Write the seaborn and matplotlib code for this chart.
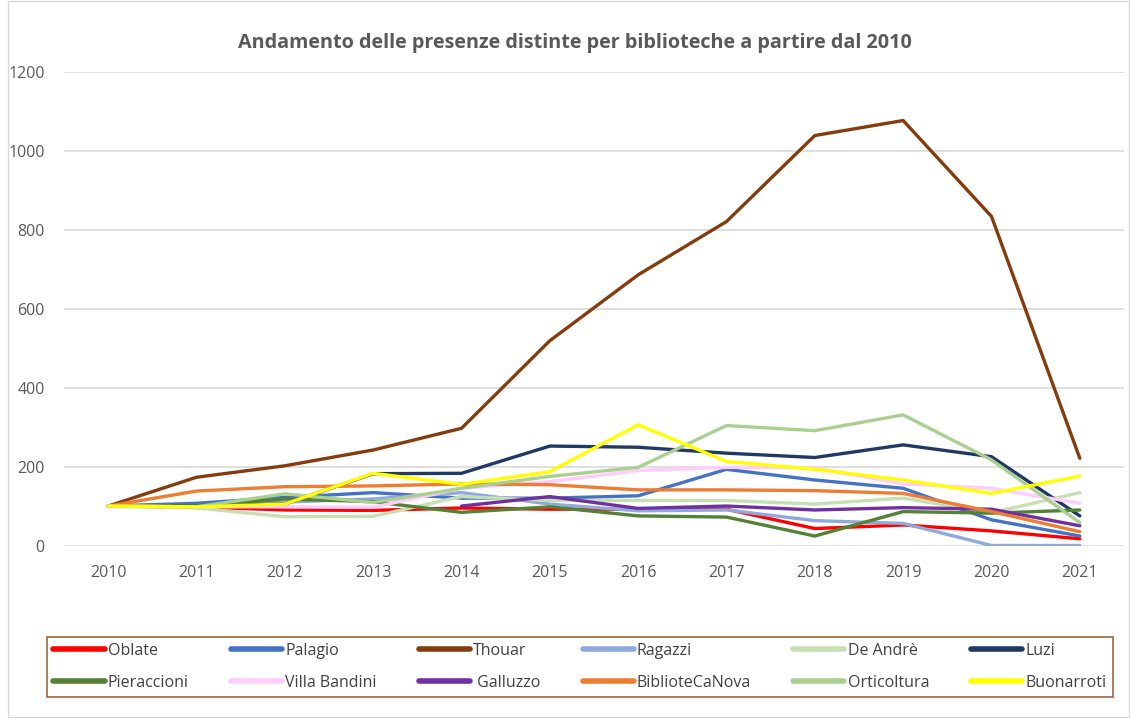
import numpy as np
import pandas as pd
import matplotlib
matplotlib.use("Agg")
import matplotlib.pyplot as plt
import seaborn as sns
from matplotlib.patches import Rectangle

years = [2010, 2011, 2012, 2013, 2014, 2015, 2016, 2017, 2018, 2019, 2020, 2021]
nan = np.nan

oblate = [100, 98, 90, 89, 95, 92, 92, 92, 43, 52, 37, 17]
palagio = [100, 107, 122, 134, 120, 120, 126, 193, 166, 145, 65, 24]
thouar = [100, 173, 202, 242, 297, 519, 686, 821, 1039, 1077, 834, 221]
ragazzi = [100, 100, 110, 118, 134, 105, 88, 90, 63, 56, 0, 0]
de_andre = [100, 95, 73, 74, 124, 114, 114, 114, 105, 120, 83, 134]
luzi = [100, 100, 105, 182, 183, 252, 249, 234, 223, 255, 225, 75]
pieraccioni = [100, 100, 118, 111, 84, 98, 75, 72, 24, 86, 82, 90]
villa_bandini = [100, 98, 98, 97, 145, 162, 190, 198, 197, 156, 145, 107]
galluzzo = [nan, nan, nan, nan, 100, 124, 94, 100, 90, 96, 92, 50]
biblioteca_nova = [100, 138, 149, 151, 156, 154, 141, 141, 139, 132, 86, 35]
orticoltura = [100, 98, 131, 109, 145, 175, 198, 304, 291, 331, 217, 58]
buonarroti = [100, 98, 105, 183, 155, 187, 306, 213, 193, 166, 132, 176]

names = ["Oblate", "Palagio", "Thouar", "Ragazzi", "De Andrè", "Luzi",
         "Pieraccioni", "Villa Bandini", " Galluzzo", "BiblioteCaNova",
         "Orticoltura", "Buonarroti"]
series = [oblate, palagio, thouar, ragazzi, de_andre, luzi, pieraccioni,
          villa_bandini, galluzzo, biblioteca_nova, orticoltura, buonarroti]
colors = ["#FF0000", "#4472C4", "#843C0C", "#8EA9DB", "#C6E0B4", "#203864",
          "#548235", "#FFCCFF", "#7030A0", "#ED7D31", "#A9D08E", "#FFFF00"]

rows = []
for n, s in zip(names, series):
    for y, v in zip(years, s):
        rows.append({"Anno": y, "Valore": v, "Biblioteca": n})
df = pd.DataFrame(rows)

sns.set_theme(style="white")
plt.rcParams["font.family"] = ["Open Sans", "DejaVu Sans"]

fig = plt.figure(figsize=(11.3, 7.18), dpi=100)
ax = fig.add_axes([64/1130, 1-545.5/718, 1060/1130, (545.5-72)/718])

sns.lineplot(data=df, x="Anno", y="Valore", hue="Biblioteca",
             hue_order=names, palette=dict(zip(names, colors)),
             linewidth=2.4, ax=ax, legend=False, sort=False)

ax.set_xlim(2009.5, 2021.5)
ax.set_ylim(0, 1200)
ax.set_xticks(years)
ax.set_xticklabels([str(y) for y in years])
ax.set_yticks(range(0, 1201, 200))
ax.grid(axis="y", color="#D9D9D9", linewidth=1.2)
ax.set_axisbelow(True)
for sp in ax.spines.values():
    sp.set_visible(False)
ax.tick_params(axis="both", length=0, labelsize=11.5, labelcolor="#595959")
ax.tick_params(axis="x", pad=14)
ax.tick_params(axis="y", pad=14)
ax.set_xlabel("")
ax.set_ylabel("")

fig.text(575/1130, 1-43/718, "Andamento delle presenze distinte per biblioteche a partire dal 2010",
         ha="center", va="center", fontsize=14.2, fontweight="bold", color="#595959")

# legend: fill row-wise (6 columns, 2 rows)
order = []
for c in range(6):
    order += [c, c + 6]
handles = [plt.Line2D([], [], color=colors[i], linewidth=4) for i in order]
labels = [names[i] for i in order]
leg = fig.legend(handles, labels, ncol=6, loc="center",
                 bbox_to_anchor=(47/1130, 1-707/718, 1066/1130, 80/718),
                 mode="expand", frameon=True, fontsize=11.5,
                 handlelength=3.2, handletextpad=0.2, columnspacing=0.5,
                 labelspacing=1.0, borderaxespad=0.0, fancybox=False)
leg.get_frame().set_edgecolor("#843C0C")
leg.get_frame().set_linewidth(1.2)
for t in leg.get_texts():
    t.set_color("#404040")

fig.patches.append(Rectangle((8/1130, 0.002), 1-9/1130, 0.996, transform=fig.transFigure,
                             fill=False, edgecolor="#D9D9D9", linewidth=1.0))

fig.savefig("out.png", dpi=100)
